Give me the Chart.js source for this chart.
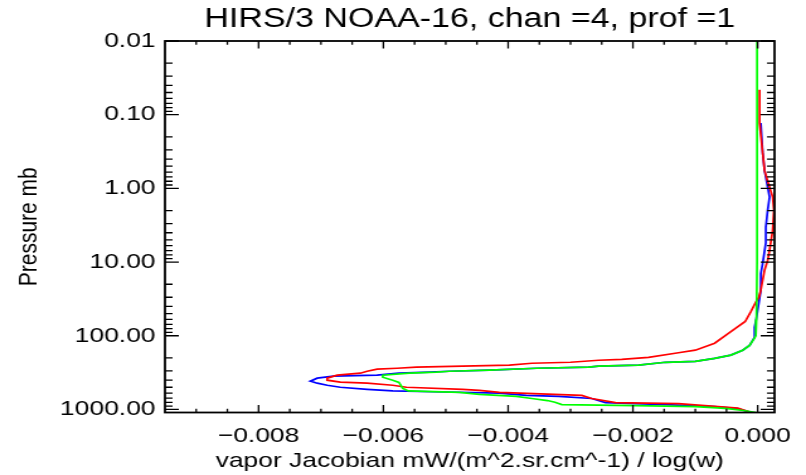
<!DOCTYPE html>
<html>
<head>
<meta charset="utf-8">
<script src="https://cdn.jsdelivr.net/npm/chart.js@4.4.0/dist/chart.umd.min.js"></script>
<style>
  html, body { margin: 0; padding: 0; background: #fff; }
</style>
</head>
<body>
<!-- IDL plot was 640 wide and stretched to 806 -->
<canvas id="plot" width="640" height="475" style="display:block;width:806px;height:475px"></canvas>
<script>
const FONT = "'Liberation Sans', Arial, sans-serif";

const xTicks = [-0.008, -0.006, -0.004, -0.002, 0.0];
const yTicks = [0.01, 0.1, 1, 10, 100, 1000];

// red profile
const redP = [0.046, 0.13, 0.33, 0.57, 0.8, 1.31, 1.98, 3.7, 6.9, 9.5, 12.9, 24, 30, 35, 47, 64, 88,
    126, 157, 170, 196, 209, 215, 229, 236, 251, 259, 267, 276, 284, 303, 322, 343, 376, 401,
    426, 440, 469, 500, 533, 550, 586, 645, 710, 806, 833, 960, 1100];
const redJac = [0.00003, 0.00003, 0.00008, 0.00011, 0.00016, 0.00024, 0.00026, 0.00024, 0.00019, 0.00016,
    0.00011, 0.00005, 0.00002, -0.00003, -0.00011, -0.0002, -0.00043,
    -0.00069, -0.001, -0.00127, -0.00175, -0.00218, -0.00255, -0.003, -0.00362, -0.00398, -0.00473,
    -0.00547, -0.00578, -0.0061, -0.00626, -0.00637, -0.00674, -0.0069, -0.0069,
    -0.00669, -0.00626, -0.00585, -0.00563, -0.00473, -0.00446, -0.00414, -0.00282, -0.00266,
    -0.00228, -0.00127, -0.00032, -0.0001];

// blue profile
const blueP = [0.13, 0.33, 0.57, 0.96, 1.31, 1.98, 3.37, 5.5, 10.4, 14.3, 24, 35, 57, 77, 105, 135,
    157, 183, 203, 222, 229, 251, 259, 267, 276, 293, 303, 312, 322, 343, 353, 376, 413, 440,
    469, 500, 533, 560, 575, 600, 645, 666, 710, 806, 860, 916, 977, 1100];
const blueJac = [0.00005, 0.00008, 0.00011, 0.00016, 0.00019, 0.00016, 0.00013, 0.00013, 0.00008, 0.00005,
    0.00005, 0.00002, -0.00002, -0.00005, -0.00005, -0.00013,
    -0.00024, -0.00043, -0.00069, -0.001, -0.00148, -0.00191, -0.00255, -0.00271, -0.00354, -0.0043,
    -0.00494, -0.00526, -0.00575, -0.0061, -0.0068, -0.00706, -0.00717, -0.00706,
    -0.0069, -0.00669, -0.00626, -0.00585, -0.00521, -0.00414, -0.00371, -0.00319, -0.00266,
    -0.00244, -0.00148, -0.00069, -0.00032, -0.0001];

// green profile
const greenP = [0.01, 10, 60, 100, 107, 135, 157, 183, 203, 222, 229, 251, 259, 267, 276, 293, 303,
    312, 322, 343, 365, 401, 430, 470, 516, 560, 586, 625, 666, 710, 757, 800, 860, 888, 916,
    950, 977, 1041, 1100];
const greenJac = [-0.00001, -0.00001, -0.00002, -0.00003, -0.00005, -0.00013, -0.00024, -0.00043, -0.00069,
    -0.001, -0.00148, -0.00191, -0.00255, -0.00271, -0.00354, -0.0043, -0.00494,
    -0.00515, -0.00558, -0.00601, -0.00601, -0.00585, -0.00575, -0.00572, -0.00569, -0.0056,
    -0.00478, -0.00446, -0.00387, -0.00362, -0.00337, -0.00325, -0.00314, -0.00196, -0.001,
    -0.00065, -0.00048, -0.0002, -0.00003];

function toPoints(p, v) {
    return p.map((pp, i) => ({ x: v[i], y: pp }));
}

function profile(p, v, color) {
    return {
        data: toPoints(p, v),
        borderColor: color,
        borderWidth: 1.7,
        pointRadius: 0,
        tension: 0,
        fill: false
    };
}

// IDL style box with inward ticks on all four sides
const idlFrame = {
    id: 'idlFrame',
    afterDatasetsDraw(chart) {
        const ctx = chart.ctx;
        const a = chart.chartArea;
        const xs = chart.scales.x;
        const ys = chart.scales.y;
        ctx.save();
        ctx.strokeStyle = '#000';
        ctx.lineWidth = 1.3;
        ctx.beginPath();
        for (let k = -18; k <= 0; k++) {
            const px = xs.getPixelForValue(k * 0.0005);
            if (px < a.left || px > a.right) continue;
            const len = k % 4 === 0 ? 7.5 : 3.8;
            ctx.moveTo(px, a.bottom); ctx.lineTo(px, a.bottom - len);
            ctx.moveTo(px, a.top); ctx.lineTo(px, a.top + len);
        }
        for (let e = -2; e <= 3; e++) {
            for (let m = 1; m <= 9; m++) {
                const p = m * Math.pow(10, e);
                if (p > ys.max) break;
                const py = ys.getPixelForValue(p);
                const len = m === 1 ? 11 : 6;
                ctx.moveTo(a.left, py); ctx.lineTo(a.left + len, py);
                ctx.moveTo(a.right, py); ctx.lineTo(a.right - len, py);
            }
        }
        ctx.stroke();
        ctx.lineWidth = 1.8;
        ctx.strokeRect(a.left, a.top, a.right - a.left, a.bottom - a.top);
        ctx.restore();
    }
};

new Chart(document.getElementById('plot').getContext('2d'), {
    type: 'line',
    data: {
        datasets: [
            profile(greenP, greenJac, '#00ff00'),
            profile(redP, redJac, '#ff0000'),
            profile(blueP, blueJac, '#0000ff')
        ]
    },
    plugins: [idlFrame],
    options: {
        responsive: false,
        devicePixelRatio: 1,
        animation: false,
        layout: { padding: { left: 0, right: 23, top: 0, bottom: 0 } },
        plugins: {
            legend: { display: false },
            tooltip: { enabled: false },
            title: {
                display: true,
                fullSize: false,
                text: 'HIRS/3 NOAA-16, chan =4, prof =1',
                color: '#000',
                font: { family: FONT, size: 27, weight: 'normal' },
                padding: { top: 3.4, bottom: 5.2 }
            }
        },
        scales: {
            x: {
                type: 'linear',
                min: -0.0095,
                max: 0.00027,
                grid: { display: false, drawTicks: false },
                border: { display: false },
                afterBuildTicks: s => { s.ticks = xTicks.map(v => ({ value: v })); },
                afterFit: s => { s.height = 62.5; },
                ticks: {
                    color: '#000',
                    font: { family: FONT, size: 21 },
                    padding: 11.4,
                    maxRotation: 0,
                    autoSkip: false,
                    callback: v => (v < 0 ? '\u2212' : '') + Math.abs(v).toFixed(3)
                },
                title: {
                    display: true,
                    text: 'vapor Jacobian mW/(m^2.sr.cm^-1) / log(w)',
                    color: '#000',
                    font: { family: FONT, size: 21 },
                    padding: { top: 0, bottom: 1 }
                }
            },
            y: {
                type: 'logarithmic',
                reverse: true,
                min: 0.01,
                max: 1100,
                grid: { display: false, drawTicks: false },
                border: { display: false },
                afterBuildTicks: s => { s.ticks = yTicks.map(v => ({ value: v })); },
                afterFit: s => { s.width = 131; },
                ticks: {
                    color: '#000',
                    font: { family: FONT, size: 21 },
                    padding: 7.5,
                    autoSkip: false,
                    callback: v => Number(v).toFixed(2)
                },
                title: {
                    display: true,
                    text: 'Pressure mb',
                    color: '#000',
                    font: { family: FONT, size: 21 },
                    padding: { top: 10.3, bottom: 0 }
                }
            }
        }
    }
});
</script>
</body>
</html>
